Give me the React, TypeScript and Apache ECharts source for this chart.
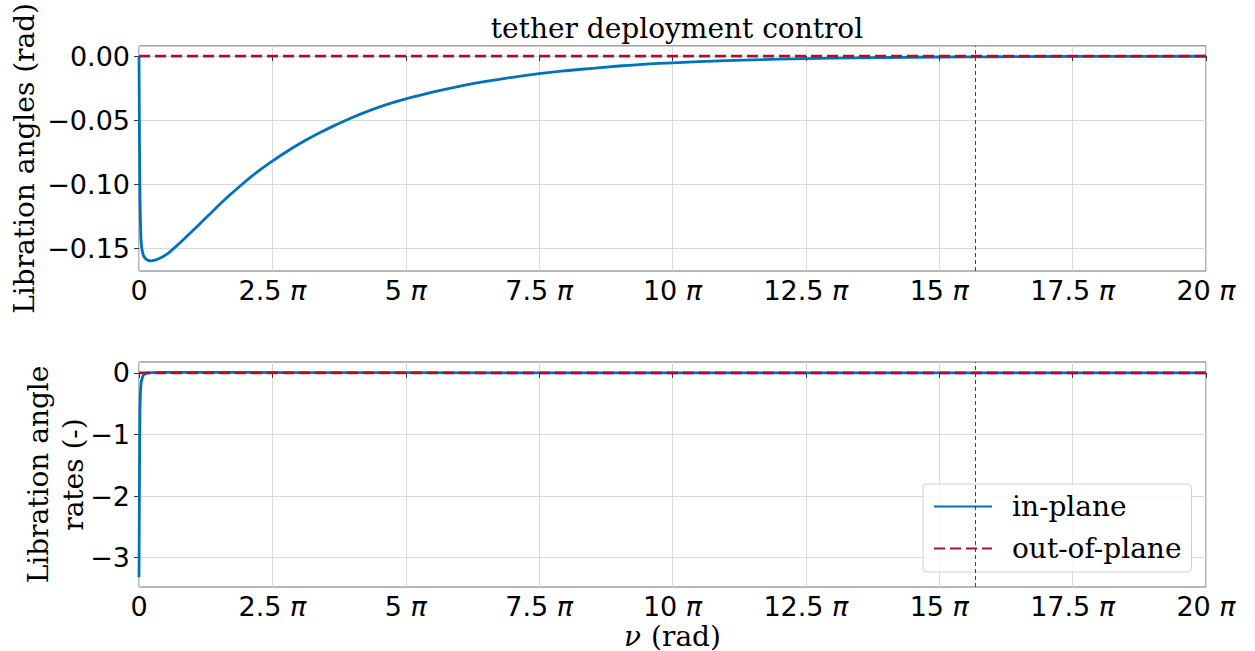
import React, { useEffect, useRef } from "react";
import * as echarts from "echarts";

// x values are in multiples of π (ν / π)
const nuAngle = [0, 0.01, 0.02, 0.035, 0.05, 0.08, 0.12, 0.17, 0.225, 0.3, 0.4, 0.55, 0.7, 0.86, 1.0, 1.18, 1.34, 1.49, 1.65, 1.8, 1.95, 2.11, 2.3, 2.5, 2.75, 3.05, 3.35, 3.67, 4.0, 4.5, 5.0, 5.5, 6.0, 6.5, 7.0, 7.5, 8.0, 8.5, 9.0, 9.5, 10, 11, 12, 13, 14, 15, 16, 17, 18, 20];
const inPlaneAngle = [0, -0.07, -0.115, -0.14, -0.149, -0.155, -0.1578, -0.1592, -0.1596, -0.159, -0.1574, -0.1535, -0.1481, -0.142, -0.1364, -0.1291, -0.1226, -0.1165, -0.1102, -0.1047, -0.0993, -0.0938, -0.0877, -0.0818, -0.0749, -0.0674, -0.0606, -0.054, -0.0478, -0.0398, -0.0334, -0.0281, -0.0235, -0.0197, -0.0165, -0.0137, -0.0114, -0.0095, -0.0077, -0.0063, -0.0052, -0.0035, -0.0024, -0.0016, -0.0011, -0.0007, -0.0005, -0.0003, -0.0002, -0.0001];
const nuRate = [0, 0.005, 0.01, 0.015, 0.02, 0.03, 0.045, 0.07, 0.1, 0.15, 0.25, 0.4, 0.7, 1.2, 2, 3, 5, 7.5, 10, 15, 20];
const inPlaneRate = [-3.32, -2.4, -1.6, -0.9, -0.5, -0.26, -0.13, -0.055, -0.02, -0.003, 0.005, 0.009, 0.01, 0.009, 0.007, 0.005, 0.003, 0.0015, 0.0007, 0.0002, 0];
const nuOut = [0, 20];
const outPlaneAngle = [0, 0];
const outPlaneRate = [0, 0];
const angleTicks = [-0.15, -0.1, -0.05, 0];
const rateTicks = [-3, -2, -1, 0];
const markerNu = 15.68;

const BLUE = "#0072BD";
const RED = "#A2142F";
const SERIF = "DejaVu Serif";
const SANS = "DejaVu Sans";

const pair = (xs: number[], ys: number[]) => xs.map((x, i) => [x, ys[i]]);

const xLabel = {
  fontSize: 27,
  fontFamily: SANS,
  color: "#000",
  margin: 6,
  formatter: (v: number) => (v === 0 ? "{n|0}" : `{n|${v}} {p|π}`),
  rich: {
    n: { fontSize: 27, fontFamily: SANS, color: "#000" },
    p: { fontSize: 27, fontFamily: SANS, fontStyle: "italic", color: "#000" },
  },
};

const splitLine = { show: true, lineStyle: { color: "#dadada", width: 1 } };
const axisTick = { show: true, length: 5, lineStyle: { color: "#333" } };

const marker = {
  silent: true,
  symbol: ["none", "none"],
  label: { show: false },
  lineStyle: { color: "#444", type: [4, 3], width: 1 },
  data: [{ xAxis: markerNu }],
};

export default function App() {
  const ref = useRef<HTMLDivElement>(null);
  useEffect(() => {
    if (!ref.current) return;
    const chart = echarts.init(ref.current, undefined, { renderer: "svg" });
    const minusFmt = (d: number) => (v: number) =>
      v === 0 ? (0).toFixed(d) : v.toFixed(d).replace("-", "−");
    chart.setOption({
      animation: false,
      backgroundColor: "#fff",
      textStyle: { fontFamily: SANS },
      title: {
        text: "tether deployment control",
        left: 672,
        textAlign: "center",
        top: 9,
        textStyle: { fontFamily: SERIF, fontSize: 28, fontWeight: "normal", color: "#000" },
      },
      legend: {
        orient: "vertical",
        left: 923,
        top: 484,
        data: ["in-plane", "out-of-plane"],
        itemWidth: 58,
        itemHeight: 14,
        itemGap: 9,
        padding: [6, 10, 7, 10],
        borderColor: "#d0d0d0",
        borderWidth: 1,
        borderRadius: 4,
        backgroundColor: "rgba(255,255,255,0.8)",
        itemStyle: { opacity: 0, borderWidth: 0 },
        textStyle: { fontFamily: SERIF, fontSize: 28, color: "#000", lineHeight: 33, padding: [0, 0, 0, 15] },
      },
      grid: [
        { left: 139, top: 44, width: 1067, height: 227, show: true, borderColor: "#707070", borderWidth: 1 },
        { left: 139, top: 362, width: 1067, height: 226, show: true, borderColor: "#707070", borderWidth: 1 },
      ],
      xAxis: [
        {
          type: "value", gridIndex: 0, min: 0, max: 20, interval: 2.5,
          axisLine: { show: false }, axisTick, splitLine, axisLabel: xLabel,
        },
        {
          type: "value", gridIndex: 1, min: 0, max: 20, interval: 2.5,
          axisLine: { show: false }, axisTick, splitLine, axisLabel: xLabel,
          name: "{i|ν}{r|(rad)}",
          nameLocation: "middle",
          nameGap: 35,
          nameMoveOverlap: false,
          nameTextStyle: {
            rich: {
              i: { fontFamily: SERIF, fontStyle: "italic", fontSize: 28, lineHeight: 28, color: "#000", padding: [0, 10, 0, 0] },
              r: { fontFamily: SERIF, fontSize: 28, lineHeight: 28, color: "#000" },
            },
          },
        },
      ],
      yAxis: [
        {
          type: "value", gridIndex: 0, min: -0.1675, max: 0.008,
          axisLine: { show: false },
          axisTick: { ...axisTick, customValues: angleTicks },
          splitLine,
          axisLabel: { customValues: angleTicks, fontSize: 27, fontFamily: SANS, color: "#000", margin: 9, formatter: minusFmt(2) },
          name: "Libration angles (rad)",
          nameLocation: "middle",
          nameGap: 101,
          nameMoveOverlap: false,
          nameTextStyle: { fontFamily: SERIF, fontSize: 28, color: "#000" },
        },
        {
          type: "value", gridIndex: 1, min: -3.477, max: 0.177,
          axisLine: { show: false },
          axisTick: { ...axisTick, customValues: rateTicks },
          splitLine,
          axisLabel: { customValues: rateTicks, fontSize: 27, fontFamily: SANS, color: "#000", margin: 9, formatter: minusFmt(0) },
          name: "Libration angle\nrates (-)",
          nameLocation: "middle",
          nameGap: 48,
          nameMoveOverlap: false,
          nameTextStyle: { fontFamily: SERIF, fontSize: 28, color: "#000", lineHeight: 35 },
        },
      ],
      series: [
        {
          name: "in-plane", type: "line", xAxisIndex: 0, yAxisIndex: 0,
          data: pair(nuAngle, inPlaneAngle), showSymbol: false, symbol: "none", smooth: 0.2,
          lineStyle: { color: BLUE, width: 2.8 }, itemStyle: { color: BLUE },
          markLine: marker,
        },
        {
          name: "out-of-plane", type: "line", xAxisIndex: 0, yAxisIndex: 0,
          data: pair(nuOut, outPlaneAngle), showSymbol: false, symbol: "none",
          lineStyle: { color: RED, width: 2.8, type: [11, 5] }, itemStyle: { color: RED },
        },
        {
          name: "in-plane", type: "line", xAxisIndex: 1, yAxisIndex: 1,
          data: pair(nuRate, inPlaneRate), showSymbol: false, symbol: "none",
          lineStyle: { color: BLUE, width: 2.8 }, itemStyle: { color: BLUE },
          markLine: marker,
        },
        {
          name: "out-of-plane", type: "line", xAxisIndex: 1, yAxisIndex: 1,
          data: pair(nuOut, outPlaneRate), showSymbol: false, symbol: "none",
          lineStyle: { color: RED, width: 2.8, type: [11, 5] }, itemStyle: { color: RED },
        },
      ],
    });
    return () => chart.dispose();
  }, []);
  return (
    <div
      ref={ref}
      style={{ position: "fixed", left: 0, top: 0, width: 1255, height: 651, background: "#fff" }}
    />
  );
}
